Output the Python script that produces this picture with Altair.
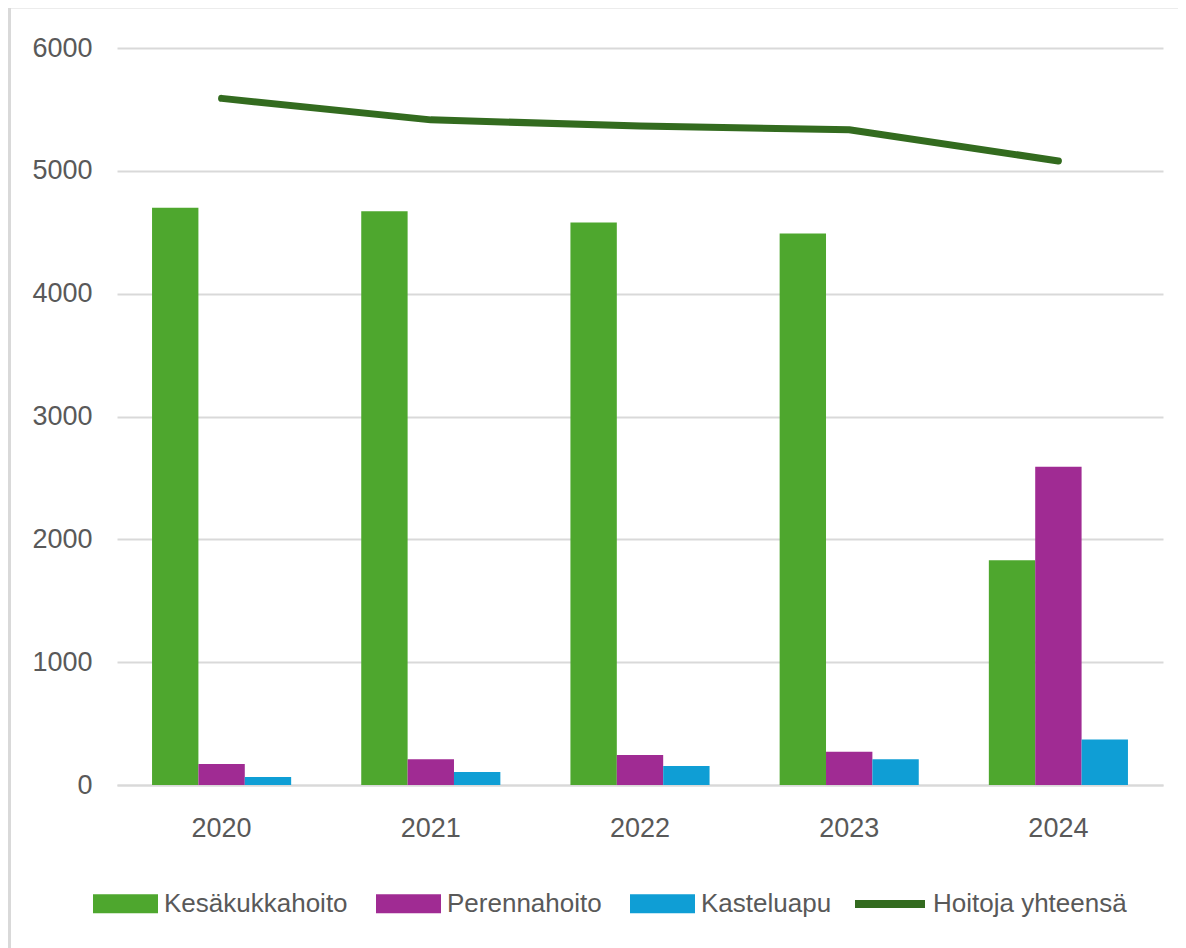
import altair as alt
import pandas as pd

years = ["2020", "2021", "2022", "2023", "2024"]
series = ["Kesäkukkahoito", "Perennahoito", "Kasteluapu"]
kesakukka = [4700, 4670, 4580, 4490, 1830]
perenna = [170, 210, 245, 270, 2590]
kastelu = [65, 105, 155, 210, 370]
total_name = "Hoitoja yhteensä"
total = [5590, 5415, 5365, 5335, 5080]
y_ticks = [0, 1000, 2000, 3000, 4000, 5000, 6000]

bar_colors = ["#4ea72e", "#a02b93", "#0f9ed5"]
line_color = "#336b1f"
text_color = "#595959"
grid_color = "#d9d9d9"
font = "Liberation Sans"

rows = []
for s, vals in zip(series, [kesakukka, perenna, kastelu]):
    for y, v in zip(years, vals):
        rows.append({"year": y, "series": s, "value": v})
bars_df = pd.DataFrame(rows)
line_df = pd.DataFrame({"year": years, "value": total, "name": [total_name] * len(years)})

xscale = alt.Scale(domain=years, paddingInner=0.335, paddingOuter=0.1675)
yscale = alt.Scale(domain=[0, 6000])

bars = alt.Chart(bars_df).mark_bar().encode(
    x=alt.X("year:N", scale=xscale, title=None,
            axis=alt.Axis(labelAngle=0, ticks=False, domain=True, domainColor=grid_color,
                          domainWidth=2, labelPadding=30, labelFontSize=27,
                          labelColor=text_color, labelFont=font)),
    xOffset=alt.XOffset("series:N", sort=series, scale=alt.Scale(paddingInner=0, paddingOuter=0)),
    y=alt.Y("value:Q", scale=yscale, title=None,
            axis=alt.Axis(values=y_ticks, format="d", ticks=False,
                          domain=False, gridColor=grid_color, gridWidth=2,
                          labelPadding=25, labelFontSize=27, labelColor=text_color,
                          labelFont=font)),
    color=alt.Color("series:N", sort=series,
                    scale=alt.Scale(domain=series, range=bar_colors),
                    legend=alt.Legend(title=None, orient="none", direction="horizontal",
                                      legendX=-24, legendY=823,
                                      symbolType="M-1,-0.29H1V0.29H-1Z", symbolSize=4225,
                                      symbolStrokeWidth=0, labelFontSize=26,
                                      labelColor=text_color, labelFont=font,
                                      labelLimit=400, labelOffset=6, columnPadding=28)),
)

line = alt.Chart(line_df).mark_line(strokeWidth=7, strokeCap="round", strokeJoin="round").encode(
    x=alt.X("year:N", scale=xscale),
    y=alt.Y("value:Q", scale=yscale),
    stroke=alt.Stroke("name:N", scale=alt.Scale(domain=[total_name], range=[line_color]),
                      legend=alt.Legend(title=None, orient="none", direction="horizontal",
                                        legendX=734, legendY=817,
                                        symbolType="stroke", symbolSize=4900,
                                        symbolStrokeWidth=8, labelFontSize=26,
                                        labelColor=text_color, labelFont=font,
                                        labelLimit=400, labelOffset=4)),
)

frame = alt.Chart(pd.DataFrame({"a": [0]})).mark_rect(
    fillOpacity=0, stroke=grid_color, strokeWidth=3
).encode(
    x=alt.value(-107.5), x2=alt.value(1200), y=alt.value(-41), y2=alt.value(1000)
)

chart = alt.layer(bars, line, frame).properties(
    width=1046, height=737,
    padding={"left": 109, "top": 40, "right": 15, "bottom": 165},
    autosize=alt.AutoSizeParams(type="none"),
).configure_view(stroke=None)

chart.save("out.html", embed_options={"renderer": "svg", "actions": False})
